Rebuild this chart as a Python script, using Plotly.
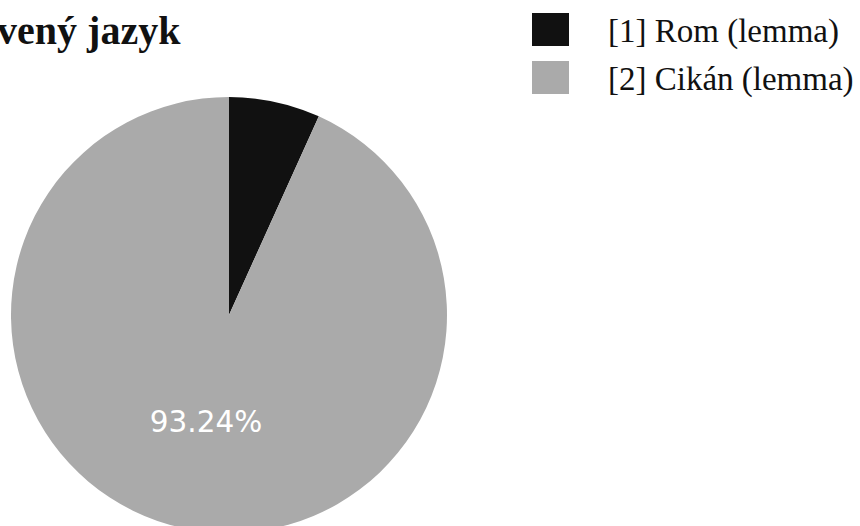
import plotly.graph_objects as go

# ---- data ----
labels = ["[1] Rom (lemma)", "[2] Cikán (lemma)"]
values = [6.76, 93.24]
colors = ["#111111", "#aaaaaa"]
slice_text = ["", "%{percent:.2%}"]
title_text = "Mluvený jazyk"

W, H = 860, 630

def px_x(x):
    return x / W

def px_y(y):
    return 1 - y / H

fig = go.Figure(go.Pie(
    labels=labels,
    values=values,
    sort=False,
    direction="clockwise",
    rotation=0,
    marker=dict(colors=colors, line=dict(width=0)),
    texttemplate=slice_text,
    textposition="inside",
    insidetextfont=dict(family="DejaVu Sans", size=29.5, color="#ffffff"),
    showlegend=False,
    domain=dict(x=[px_x(11), px_x(447)], y=[0, 1]),
))

shapes = []
annotations = []
for i, (lab, col) in enumerate(zip(labels, colors)):
    y0 = 13 + 48 * i
    shapes.append(dict(type="rect", xref="paper", yref="paper",
                       x0=px_x(532), x1=px_x(569), y0=px_y(y0), y1=px_y(y0 + 33),
                       fillcolor=col, line=dict(width=0)))
    annotations.append(dict(text=lab, xref="paper", yref="paper",
                            x=px_x(606), y=px_y(y0 + 18), xanchor="left", yanchor="middle",
                            showarrow=False,
                            font=dict(family="Liberation Serif", size=33, color="#111111")))

annotations.append(dict(text="<b>" + title_text + "</b>", xref="paper", yref="paper",
                        x=px_x(183), y=px_y(30), xanchor="right", yanchor="middle",
                        showarrow=False,
                        font=dict(family="Liberation Serif", size=40, color="#111111")))

fig.update_layout(
    width=W, height=H,
    margin=dict(l=0, r=0, t=0, b=0),
    paper_bgcolor="#ffffff",
    plot_bgcolor="#ffffff",
    shapes=shapes,
    annotations=annotations,
)

fig.write_html("out.html",
               post_script="document.body.style.overflow='hidden';document.documentElement.style.overflow='hidden';")
